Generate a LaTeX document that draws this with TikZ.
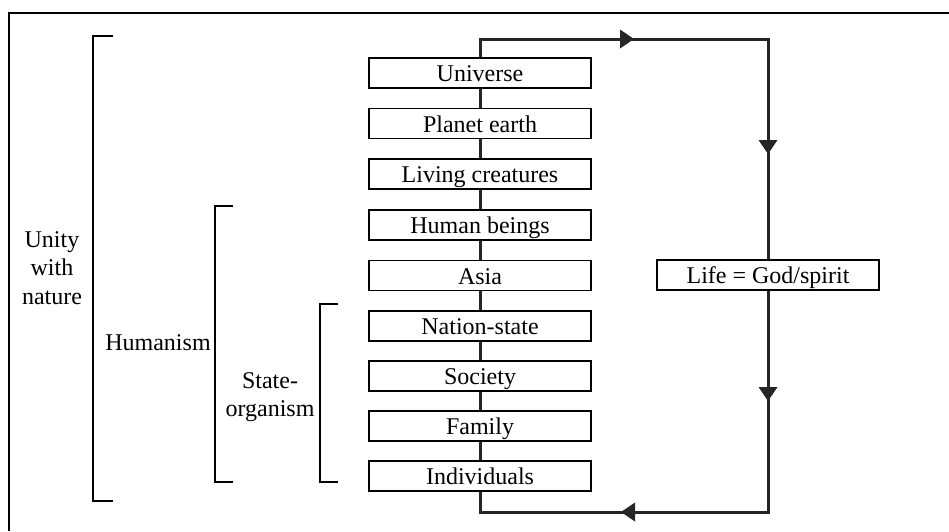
\documentclass[tikz,border=0pt]{standalone}
\usepackage{fontspec}
\setmainfont{Liberation Serif}
\usetikzlibrary{arrows.meta}
\begin{document}
\begin{tikzpicture}[x=1pt,y=-1pt,
  every node/.style={font=\fontsize{24}{28.5}\selectfont},
  box/.style={draw, line width=1.3pt, minimum width=222pt, minimum height=30pt, inner sep=0pt, text height=21pt, text depth=3.6pt, anchor=center},
  link/.style={line width=3pt, color=black!85},
  brk/.style={line width=1.2pt},
  lbl/.style={align=center, inner sep=0pt}]
\useasboundingbox (0,0) rectangle (949,531);
% frame (only top and left visible)
\draw[line width=2pt] (949,13) -- (9,13) -- (9,531);
% boxes
\node[box] (u) at (480,73) {Universe};
\node[box] (p) at (480,123.5) {Planet earth};
\node[box] (lc) at (480,174) {Living creatures};
\node[box] (h) at (480,225) {Human beings};
\node[box] (a) at (480,275.5) {Asia};
\node[box] (n) at (480,326) {Nation-state};
\node[box] (s) at (480,376) {Society};
\node[box] (f) at (480,426) {Family};
\node[box] (i) at (480,476) {Individuals};
\node[box] (life) at (768,275) {Life = God/spirit};
% connectors between boxes
\foreach \x/\y in {u/p,p/lc,lc/h,h/a,a/n,n/s,s/f,f/i}
  \draw[link] (\x.south) -- (\y.north);
% loop
\coordinate (tl) at (480,39);
\coordinate (tr) at (768,39);
\coordinate (br) at (768,512);
\coordinate (bl) at (480,512);
\draw[link] (u.north) -- (tl) -- (tr) -- (life.north);
\draw[link] (life.south) -- (br) -- (bl) -- (i.south);
% arrowheads (filled triangles)
\coordinate (a1) at (634,39);
\coordinate (a2) at (768,154);
\coordinate (a3) at (768,401);
\coordinate (a4) at (621,512);
\fill[black!85] (a1) -- ++(-14,-9.5) -- ++(0,19) -- cycle;
\fill[black!85] (a2) -- ++(-9.5,-14) -- ++(19,0) -- cycle;
\fill[black!85] (a3) -- ++(-9.5,-14) -- ++(19,0) -- cycle;
\fill[black!85] (a4) -- ++(14,-9.5) -- ++(0,19) -- cycle;
% brackets
\draw[brk] (113,36) -- (93,36) -- (93,501) -- (113,501);
\draw[brk] (233,206) -- (215,206) -- (215,482) -- (233,482);
\draw[brk] (338,304) -- (320,304) -- (320,482) -- (338,482);
% labels
\node[lbl] (unity) at (52,268) {Unity\\with\\nature};
\node[lbl] (hum) at (158,343) {Humanism};
\node[lbl] (state) at (270,397) {State-\\organism};
\end{tikzpicture}
\end{document}
